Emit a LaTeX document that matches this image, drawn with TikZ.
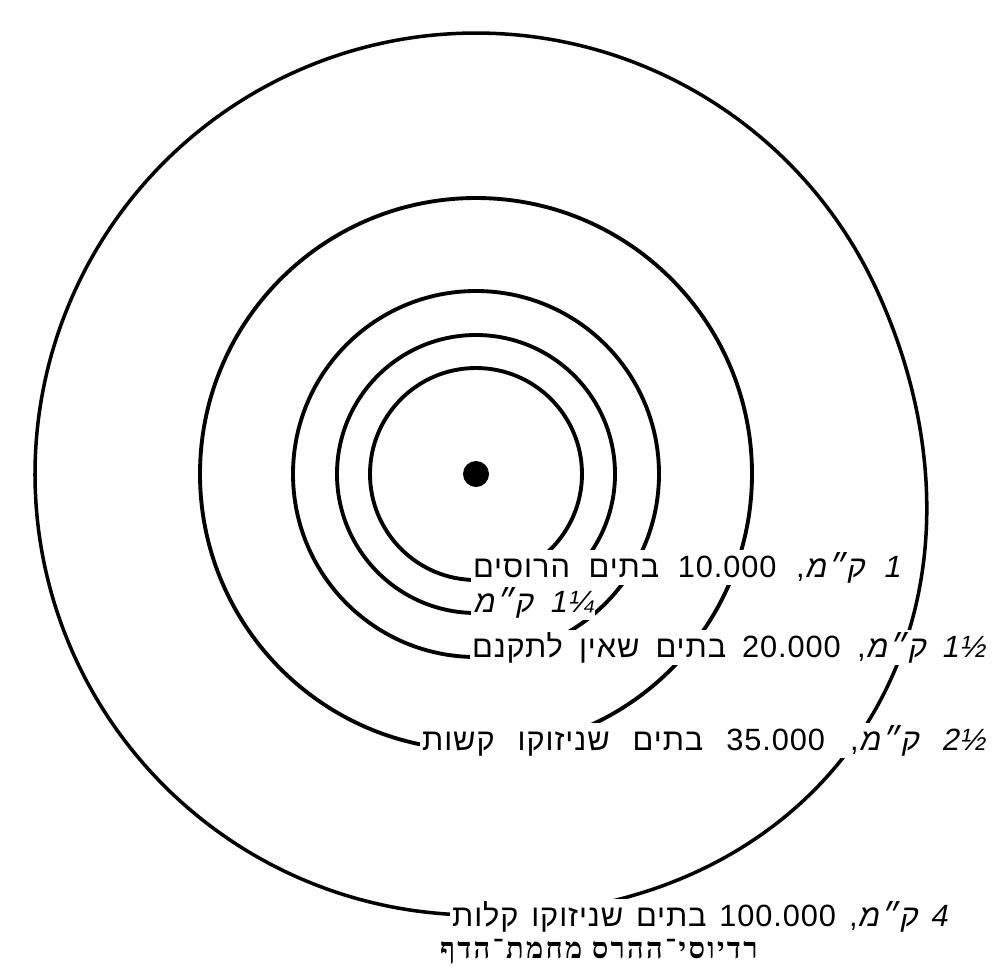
\documentclass[tikz,border=0pt]{standalone}
\usepackage{fontspec}
\usetikzlibrary{positioning}
\TeXXeTstate=1
\newfontfamily\hebfont[Script=Hebrew, LetterSpace=3, WordSpace=1.5]{Liberation Sans}
\newfontfamily\hebslant[Script=Hebrew, LetterSpace=3, WordSpace=1.5, FakeSlant=0.2]{Liberation Sans}
\newfontfamily\numslant[LetterSpace=3, FakeSlant=0.2]{Liberation Sans}
\newfontfamily\capfont[Script=Hebrew, LetterSpace=8]{Liberation Serif}
\newlength\px
\setlength\px{0.02cm}

\begin{document}
\begin{tikzpicture}[x=0.02cm, y=-0.02cm,
    declare function={rim(\a)=441+23*(\a>-25)*(\a<95)*cos(1.5*(\a-35))^2;},
    ring/.style={line width=2.2pt},
    kmtag/.style={fill=white, inner sep=1pt, anchor=base west,
                  font=\hebfont\fontsize{17.5}{21}\selectfont}]
  \useasboundingbox (0,0) rectangle (994,971);
  \coordinate (ctr) at (476,474);

  % ground zero and the rings
  \fill (ctr) circle[radius=13];
  \foreach \r in {106,139,183,276}
    \draw[ring] (ctr) circle[radius=\r];
  \draw[line width=2pt] plot[domain=-180:180, samples=180, smooth]
    ({476+rim(\x)*cos(\x)}, {474+rim(\x)*sin(\x)}) -- cycle;

  % labels, right to left
  \node[kmtag] (km1) at (471,577) {\makebox[427\px][s]{\beginR
    {\numslant\beginL 1\endL}{\hebslant{} ק״מ}, \beginL 10.000\endL{} בתים הרוסים\endR}};
  \node[kmtag] (km125) at (471,612) {\makebox[120\px][s]{\beginR
    {\numslant\beginL 1¼\endL}{\hebslant{} ק״מ}\endR}};
  \node[kmtag] (km15) at (470,657) {\makebox[513\px][s]{\beginR
    {\numslant\beginL 1½\endL}{\hebslant{} ק״מ}, \beginL 20.000\endL{} בתים שאין לתקנם\endR}};
  \node[kmtag] (km25) at (420,750) {\makebox[563\px][s]{\beginR
    {\numslant\beginL 2½\endL}{\hebslant{} ק״מ}, \beginL 35.000\endL{} בתים שניזוקו קשות\endR}};
  \node[kmtag] (km4) at (450,926) {\makebox[495\px][s]{\beginR
    {\numslant\beginL 4\endL}{\hebslant{} ק״מ}, \beginL 100.000\endL{} בתים שניזוקו קלות\endR}};
  \node[anchor=base west, fill=white, inner sep=1pt,
        font=\capfont\bfseries\fontsize{16.5}{20}\selectfont] (title) at (438,958)
    {\beginR רדיוסי־ההרס מחמת־הדף\endR};
\end{tikzpicture}
\end{document}
